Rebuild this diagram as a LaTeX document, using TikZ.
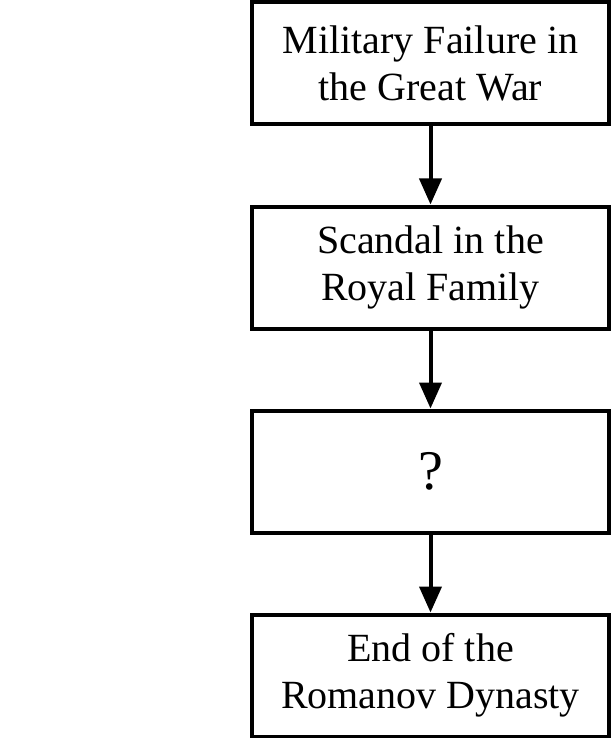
\documentclass[tikz,border=0pt]{standalone}
\usepackage{fontspec}
\setmainfont{Liberation Serif}
\usetikzlibrary{arrows.meta}
\begin{document}
\begin{tikzpicture}[x=1pt, y=-1pt,
    stage/.style={draw, line width=4pt, minimum width=357pt, minimum height=122pt,
        align=center, inner sep=0pt, font=\fontsize{40}{47}\selectfont},
    link/.style={line width=4pt, -{Triangle[length=26pt, width=22pt]}}]
    \useasboundingbox (0,0) rectangle (614,738);
    \node[stage] (war) at (430.5, 63) {Military Failure in\\the Great War};
    \node[stage] (scandal) at (430.5, 267.5) {Scandal in the\\Royal Family};
    \node[stage, font=\fontsize{56}{60}\selectfont] (unknown) at (430.5, 471.5) {?};
    \node[stage] (end) at (430.5, 675.5) {End of the\\Romanov Dynasty};
    \draw[link] (war) -- (scandal);
    \draw[link] (scandal) -- (unknown);
    \draw[link] (unknown) -- (end);
\end{tikzpicture}
\end{document}
